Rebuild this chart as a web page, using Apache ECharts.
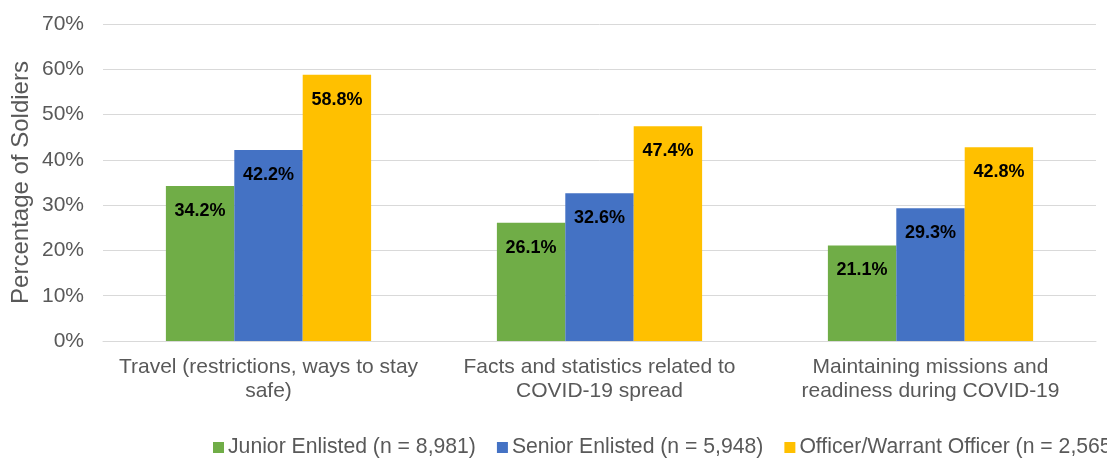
<!DOCTYPE html>
<html><head><meta charset="utf-8">
<script src="https://cdn.jsdelivr.net/npm/echarts@6/dist/echarts.min.js"></script>
<style>html,body{margin:0;padding:0;background:#fff;overflow:hidden}#c{width:1107px;height:460px}</style>
</head><body><div id="c"></div>
<script>
var categories = ["Travel (restrictions, ways to stay\nsafe)", "Facts and statistics related to\nCOVID-19 spread", "Maintaining missions and\nreadiness during COVID-19"];
var seriesNames = ["Junior Enlisted (n = 8,981)", "Senior Enlisted (n = 5,948)", "Officer/Warrant Officer (n = 2,565)"];
var junior = [34.2, 26.1, 21.1];
var senior = [42.2, 32.6, 29.3];
var officer = [58.8, 47.4, 42.8];
var yTicks = [0, 10, 20, 30, 40, 50, 60, 70];
var colors = ["#70AD47", "#4472C4", "#FFC000"];
var font = "Liberation Sans, Arial, sans-serif";
var chart = echarts.init(document.getElementById('c'));
function mk(name, data, i) {
  return {
    name: name, type: 'bar', data: data, barGap: '0%', barCategoryGap: '38%',
    itemStyle: {color: colors[i]},
    label: {show: true, position: 'insideTop', distance: 16, formatter: function(p){return p.value.toFixed(1) + '%';},
      color: '#000', fontWeight: 'bold', fontSize: 18, fontFamily: font}
  };
}
chart.setOption({
  animation: false,
  grid: {left: 103, right: 11, top: 24, bottom: 119, containLabel: false, outerBoundsMode: 'none'},
  legend: {left: 213, top: 437, width: 1600, padding: 0, itemWidth: 11, itemHeight: 11, itemGap: 21, icon: 'rect',
    textStyle: {fontSize: 21.2, color: '#595959', fontFamily: font, padding: [0,0,0,-1]}},
  xAxis: {type: 'category', data: categories,
    axisLine: {lineStyle: {color: '#D9D9D9', width: 1}}, axisTick: {show: false},
    axisLabel: {fontSize: 21, color: '#595959', fontFamily: font, lineHeight: 24, margin: 14, interval: 0}},
  yAxis: {type: 'value', min: 0, max: 70, interval: 10,
    name: 'Percentage of Soldiers', nameLocation: 'middle', nameGap: 70, nameRotate: 90, nameMoveOverlap: false,
    nameTextStyle: {fontSize: 24, color: '#595959', fontFamily: font},
    axisLine: {show: false}, axisTick: {show: false},
    splitLine: {lineStyle: {color: '#D9D9D9', width: 1}},
    axisLabel: {fontSize: 21, color: '#595959', fontFamily: font, margin: 19,
      formatter: function(v){return v + '%';}}},
  series: [mk(seriesNames[0], junior, 0), mk(seriesNames[1], senior, 1), mk(seriesNames[2], officer, 2)]
});
</script></body></html>
